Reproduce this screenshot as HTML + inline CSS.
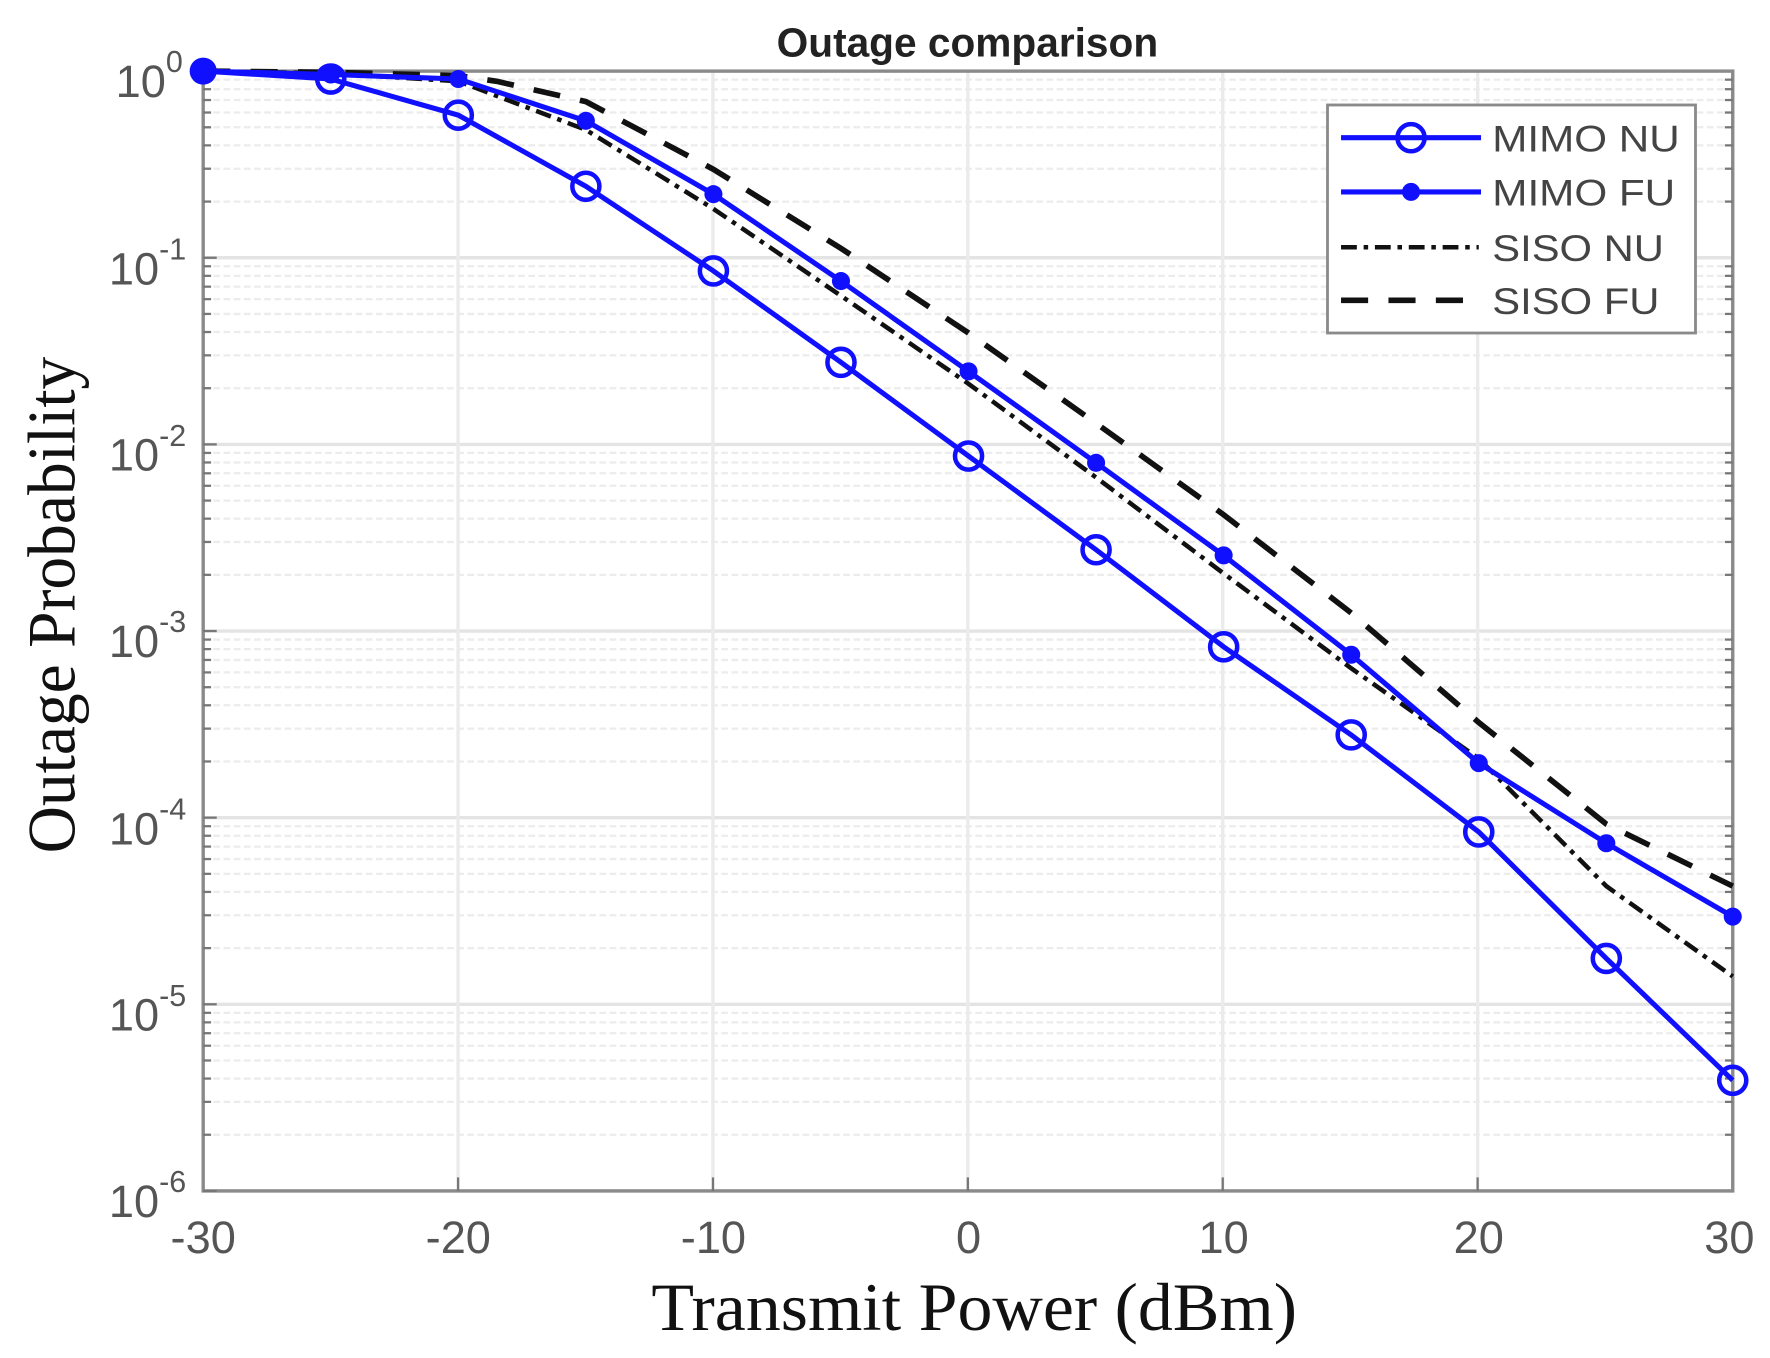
<!DOCTYPE html>
<html><head><meta charset="utf-8"><style>html,body{margin:0;padding:0;background:#fff}svg{display:block}</style></head>
<body>
<svg id="s" width="1770" height="1358" viewBox="0 0 1568 1203" preserveAspectRatio="none" xmlns="http://www.w3.org/2000/svg">
<rect width="1568" height="1203" fill="#fff"/>
<g id="grid"></g>
<rect x="180" y="63" width="1355" height="992" fill="none" stroke="#8a8a8a" stroke-width="3"/>
<g id="ticks"></g>
<text x="857" y="50" font-family="Liberation Sans, sans-serif" font-weight="bold" font-size="36" text-anchor="middle" fill="#222">Outage comparison</text>
<g font-family="Liberation Sans, sans-serif" font-size="40" fill="#555" text-anchor="middle">
<text x="180" y="1110">-30</text><text x="406" y="1110">-20</text><text x="632" y="1110">-10</text>
<text x="858" y="1110">0</text><text x="1084" y="1110">10</text><text x="1310" y="1110">20</text><text x="1532" y="1110">30</text>
</g>
<g font-family="Liberation Sans, sans-serif" fill="#555" text-anchor="end">
<text x="162" y="86" font-size="40">10<tspan font-size="27" dy="-22">0</tspan></text>
<text x="165" y="252" font-size="40">10<tspan font-size="27" dy="-22">-1</tspan></text>
<text x="165" y="417" font-size="40">10<tspan font-size="27" dy="-22">-2</tspan></text>
<text x="165" y="582" font-size="40">10<tspan font-size="27" dy="-22">-3</tspan></text>
<text x="165" y="748" font-size="40">10<tspan font-size="27" dy="-22">-4</tspan></text>
<text x="165" y="913" font-size="40">10<tspan font-size="27" dy="-22">-5</tspan></text>
<text x="165" y="1078" font-size="40">10<tspan font-size="27" dy="-22">-6</tspan></text>
</g>
<text x="863" y="1178" font-family="Liberation Serif, serif" font-size="60" text-anchor="middle" fill="#111" textLength="572" lengthAdjust="spacingAndGlyphs">Transmit Power (dBm)</text>
<text transform="translate(66,536) rotate(-90)" x="0" y="0" font-family="Liberation Serif, serif" font-size="60" text-anchor="middle" fill="#111" textLength="440" lengthAdjust="spacingAndGlyphs">Outage Probability</text>

<polyline fill="none" stroke="#111" stroke-width="4" stroke-dasharray="14,6,4,6" points="180,63 293,65 406,72 519,115 632,185 745,262 858,340 971,423 1084,508 1197,592 1310,672 1423,785 1535,865"/>
<polyline fill="none" stroke="#111" stroke-width="5" stroke-dasharray="24,18" points="180,63 293,64 406,67 440,72 519,90 632,150 745,220 858,295 971,375 1084,456 1197,543 1310,640 1423,730 1535,785"/>
<polyline fill="none" stroke="#1010ff" stroke-width="4.5" points="180,63 293,66 406,70 519,107 632,172 745,249 858,329 971,410 1084,492 1197,580 1310,676 1423,747 1535,812"/>
<g fill="#1010ff" id="fu"></g>
<polyline fill="none" stroke="#1010ff" stroke-width="4.5" points="180,63 293,70 406,102 519,165 632,240 745,321 858,404 971,487 1084,573 1197,651 1310,737 1423,849 1535,957"/>
<g fill="none" stroke="#1010ff" stroke-width="4" id="nu"></g>
<circle cx="180" cy="63" r="12" fill="#1010ff"/>

<rect x="1176" y="93" width="326" height="202" fill="#fff" stroke="#8a8a8a" stroke-width="2.5"/>
<line x1="1188" y1="122" x2="1312" y2="122" stroke="#1010ff" stroke-width="4.5"/>
<circle cx="1250" cy="122" r="12" fill="none" stroke="#1010ff" stroke-width="4"/>
<line x1="1188" y1="170" x2="1312" y2="170" stroke="#1010ff" stroke-width="4.5"/>
<circle cx="1250" cy="170" r="8" fill="#1010ff"/>
<line x1="1188" y1="219" x2="1310" y2="219" stroke="#111" stroke-width="4" stroke-dasharray="14,6,4,6"/>
<line x1="1188" y1="266" x2="1310" y2="266" stroke="#111" stroke-width="5" stroke-dasharray="24,18"/>
<g font-family="Liberation Sans, sans-serif" font-size="33" fill="#444">
<text x="1322" y="134" textLength="166" lengthAdjust="spacingAndGlyphs">MIMO NU</text>
<text x="1322" y="182" textLength="162" lengthAdjust="spacingAndGlyphs">MIMO FU</text>
<text x="1322" y="231" textLength="152" lengthAdjust="spacingAndGlyphs">SISO NU</text>
<text x="1322" y="278" textLength="148" lengthAdjust="spacingAndGlyphs">SISO FU</text>
</g>
</svg>
<script>
(function(){
var NS="http://www.w3.org/2000/svg";
function el(p,t,a){var e=document.createElementNS(NS,t);for(var k in a)e.setAttribute(k,a[k]);document.getElementById(p).appendChild(e);return e;}
var y0=63,dec=(1055-63)/6;
for(var d=0;d<6;d++){
  var base=y0+(d+1)*dec;
  el("grid","line",{x1:180,x2:1535,y1:base,y2:base,stroke:"#e4e4e4","stroke-width":3});
  for(var m=2;m<=9;m++){
    var y=base-Math.log10(m)*dec;
    el("grid","line",{x1:180,x2:1535,y1:y,y2:y,stroke:"#ececec","stroke-width":2,"stroke-dasharray":"6,3"});
    el("ticks","line",{x1:180,x2:187,y1:y,y2:y,stroke:"#777","stroke-width":2});
    el("ticks","line",{x1:1528,x2:1535,y1:y,y2:y,stroke:"#777","stroke-width":2});
  }
  el("ticks","line",{x1:180,x2:192,y1:base,y2:base,stroke:"#777","stroke-width":2});
}
for(var i=1;i<6;i++){var x=180+i*225.8;
  el("grid","line",{x1:x,x2:x,y1:63,y2:1055,stroke:"#ebebeb","stroke-width":3});
  el("ticks","line",{x1:x,x2:x,y1:1043,y2:1055,stroke:"#777","stroke-width":2});}
var fu=[[293,66],[406,70],[519,107],[632,172],[745,249],[858,329],[971,410],[1084,492],[1197,580],[1310,676],[1423,747],[1535,812]];
fu.forEach(function(p){el("fu","circle",{cx:p[0],cy:p[1],r:8});});
var nu=[[293,70],[406,102],[519,165],[632,240],[745,321],[858,404],[971,487],[1084,573],[1197,651],[1310,737],[1423,849],[1535,957]];
nu.forEach(function(p){el("nu","circle",{cx:p[0],cy:p[1],r:12});});
})();
</script>
</body></html>
